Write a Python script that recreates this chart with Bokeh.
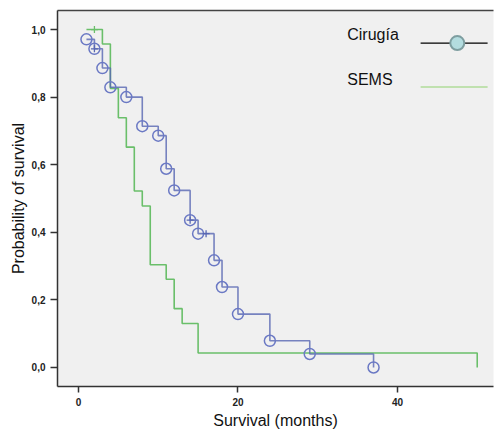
from bokeh.plotting import figure
from bokeh.models import Range1d, FixedTicker, CustomJSTickFormatter, Label, LinearAxis
from bokeh.embed import file_html
from bokeh.resources import INLINE

# Kaplan-Meier data
cirugia_t = [1, 2, 3, 4, 6, 8, 10, 11, 12, 14, 15, 17, 18, 20, 24, 29, 37]
cirugia_s = [0.971, 0.943, 0.886, 0.829, 0.800, 0.714, 0.686, 0.588, 0.524,
             0.436, 0.396, 0.317, 0.238, 0.158, 0.079, 0.040, 0.0]
cirugia_cens_t = [2, 14, 16]
cirugia_cens_s = [0.943, 0.436, 0.396]

sems_t = [1, 3, 4, 5, 6, 7, 8, 9, 11, 12, 13, 15, 50]
sems_s = [1.0, 0.957, 0.826, 0.739, 0.652, 0.522, 0.478, 0.304, 0.261,
          0.174, 0.130, 0.043, 0.0]
sems_cens_t = [2]
sems_cens_s = [1.0]

x_ticks = [0, 20, 40]
y_ticks = [0.0, 0.2, 0.4, 0.6, 0.8, 1.0]
series_names = ["Cirugía", "SEMS"]

BLUE = "#5867b3"
CIRC = "#6b79c4"
GREEN = "#6abf6a"
FONT = "Liberation Sans"

p = figure(width=495, height=431, output_backend="svg", toolbar_location=None,
           x_range=Range1d(-2.63, 52.04), y_range=Range1d(-0.0563, 1.0563),
           min_border_left=57, min_border_right=2, min_border_top=10,
           min_border_bottom=45)
p.background_fill_color = "#f0f0f0"
p.border_fill_color = "white"
p.outline_line_color = None
p.grid.visible = False

# series
p.step(sems_t, sems_s, mode="after", line_color=GREEN, line_width=1.6)
p.scatter(sems_cens_t, sems_cens_s, marker="cross", size=7, line_color=GREEN, line_width=1.3)
p.step(cirugia_t, cirugia_s, mode="after", line_color=BLUE, line_width=1.6, line_alpha=0.8)
p.scatter(cirugia_t, cirugia_s, marker="circle", size=11, fill_color=None,
          line_color=CIRC, line_width=1.5)
p.scatter(cirugia_cens_t, cirugia_cens_s, marker="cross", size=7, line_color=BLUE, line_width=1.3)

# axes
xa = p.below[0]
ya = p.left[0]
for ax in (xa, ya):
    ax.axis_line_color = "#333"
    ax.axis_line_width = 1.5
    ax.major_tick_line_color = "#333"
    ax.major_tick_line_width = 1.5
    ax.major_tick_in = 0
    ax.minor_tick_line_color = None
    ax.major_label_text_font = FONT
    ax.major_label_text_font_style = "bold"
    ax.major_label_text_font_size = "10px"
    ax.major_label_text_color = "#222"
    ax.axis_label_text_font = FONT
    ax.axis_label_text_font_style = "normal"
    ax.axis_label_text_font_size = "16px"
    ax.axis_label_text_color = "#111"
    ax.major_label_standoff = 5

xa.major_tick_out = 6
ya.major_tick_out = 7
xa.ticker = FixedTicker(ticks=x_ticks)
ya.ticker = FixedTicker(ticks=y_ticks)
ya.formatter = CustomJSTickFormatter(code="return tick.toFixed(1).replace('.', ',');")
xa.axis_label = "Survival (months)"
ya.axis_label = "Probability of survival"
xa.axis_label_standoff = 3
ya.axis_label_standoff = 2

# frame top line (axis without ticks or labels)
top = LinearAxis(ticker=FixedTicker(ticks=[]), axis_line_color="#444", axis_line_width=1.5,
                 major_tick_line_color=None, minor_tick_line_color=None,
                 major_tick_out=0, major_tick_in=0, major_label_standoff=0,
                 major_label_text_font_size="0px")
p.add_layout(top, "above")

# legend (label on left, sample on right)
p.add_layout(Label(x=33.7, y=0.984, text=series_names[0], text_font=FONT,
                   text_font_size="16px", text_color="#111", text_baseline="alphabetic"))
p.add_layout(Label(x=33.7, y=0.851, text=series_names[1], text_font=FONT,
                   text_font_size="16px", text_color="#111", text_baseline="alphabetic"))
p.line([42.9, 51.3], [0.96, 0.96], line_color="black", line_width=1.2)
p.scatter([47.5], [0.96], marker="circle", size=14, fill_color="#b3dcdf",
          line_color="#7e9ea0", line_width=2)
p.line([42.9, 51.3], [0.83, 0.83], line_color="#8fd16f", line_width=1.2)

open("out.html", "w").write(file_html(p, INLINE))
